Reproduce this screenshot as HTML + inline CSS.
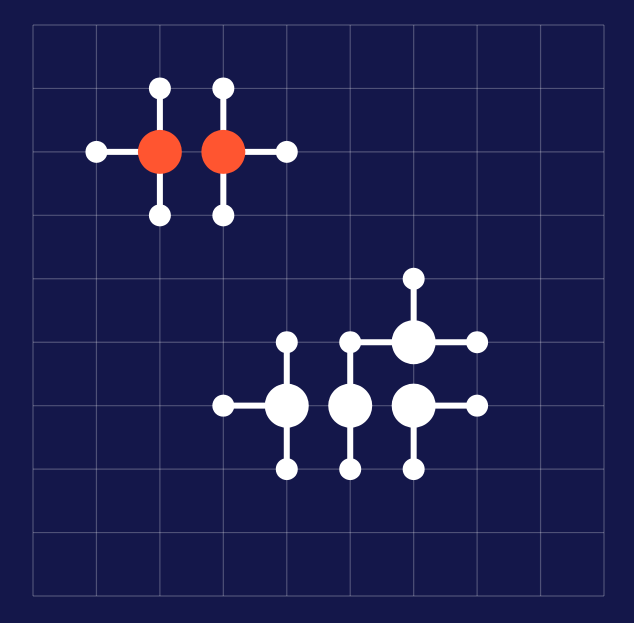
<!DOCTYPE html>
<html><head><meta charset="utf-8"><style>
html,body{margin:0;padding:0;background:#14174a;}
svg{display:block;}
</style></head><body>
<svg id="chart" width="634" height="623" viewBox="0 0 634 623" xmlns="http://www.w3.org/2000/svg">
<rect x="0" y="0" width="634" height="623" fill="#14174a"/>
<g id="grid"></g>
<g id="bonds"></g>
<g id="atoms"></g>
</svg>
<script>
const gridCount = 9;
const bigAtomsX = [2, 3, 4, 5, 6, 6];
const bigAtomsY = [2, 2, 6, 6, 5, 6];
const bigAtomsColor = ["orange", "orange", "white", "white", "white", "white"];
const smallAtomsX = [1, 2, 2, 3, 3, 4, 3, 4, 4, 5, 5, 6, 7, 6, 7];
const smallAtomsY = [2, 1, 3, 1, 3, 2, 6, 5, 7, 5, 7, 4, 5, 7, 6];
const bondsFrom = [[1,2],[2,1],[2,2],[3,1],[3,3],[3,2],[3,6],[4,5],[4,6],[5,5],[5,6],[5,5],[6,4],[6,5],[6,6],[6,6]];
const bondsTo   = [[2,2],[2,2],[2,3],[3,2],[3,2],[4,2],[4,6],[4,6],[4,7],[5,6],[5,7],[6,5],[6,5],[7,5],[6,7],[7,6]];

const ns = "http://www.w3.org/2000/svg";
const x0 = 33, x1 = 604, y0 = 25, y1 = 596;
const sx = v => x0 + v * (x1 - x0) / gridCount;
const sy = v => y0 + v * (y1 - y0) / gridCount;
const grid = document.getElementById('grid');
for (let i = 0; i <= gridCount; i++) {
  const v = document.createElementNS(ns, 'line');
  
  
  v.setAttribute('x1', sx(i)); v.setAttribute('x2', sx(i));
  v.setAttribute('y1', y0); v.setAttribute('y2', y1);
  v.setAttribute('stroke', 'rgba(255,255,255,0.25)'); v.setAttribute('stroke-width', '1.2');
  grid.appendChild(v);
  const h = document.createElementNS(ns, 'line');
  
  
  h.setAttribute('y1', sy(i)); h.setAttribute('y2', sy(i));
  h.setAttribute('x1', x0); h.setAttribute('x2', x1);
  h.setAttribute('stroke', 'rgba(255,255,255,0.25)'); h.setAttribute('stroke-width', '1.2');
  grid.appendChild(h);
}
const bonds = document.getElementById('bonds');
for (let i = 0; i < bondsFrom.length; i++) {
  const l = document.createElementNS(ns, 'line');
  
  
  l.setAttribute('x1', sx(bondsFrom[i][0])); l.setAttribute('y1', sy(bondsFrom[i][1]));
  l.setAttribute('x2', sx(bondsTo[i][0])); l.setAttribute('y2', sy(bondsTo[i][1]));
  l.setAttribute('stroke', '#ffffff'); l.setAttribute('stroke-width', '6');
  bonds.appendChild(l);
}
const atoms = document.getElementById('atoms');
for (let i = 0; i < smallAtomsX.length; i++) {
  const c = document.createElementNS(ns, 'circle');
  
  
  c.setAttribute('cx', sx(smallAtomsX[i])); c.setAttribute('cy', sy(smallAtomsY[i]));
  c.setAttribute('r', '11'); c.setAttribute('fill', '#ffffff');
  atoms.appendChild(c);
}
for (let i = 0; i < bigAtomsX.length; i++) {
  const c = document.createElementNS(ns, 'circle');
  
  
  c.setAttribute('cx', sx(bigAtomsX[i])); c.setAttribute('cy', sy(bigAtomsY[i]));
  c.setAttribute('r', '22'); c.setAttribute('fill', bigAtomsColor[i] === 'orange' ? '#ff5530' : '#ffffff');
  atoms.appendChild(c);
}
</script>
</body></html>
